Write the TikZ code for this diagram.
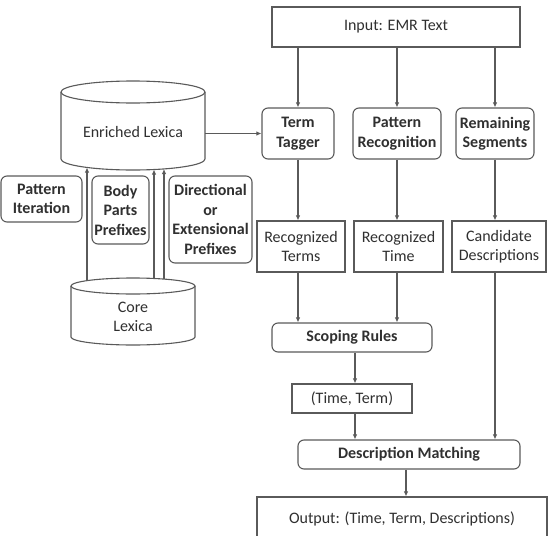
\documentclass[tikz,border=0pt]{standalone}
\usepackage{fontspec}
\setmainfont{Carlito}
\usetikzlibrary{arrows.meta}
\definecolor{ln}{HTML}{5A5A5A}
\definecolor{tx}{HTML}{303030}
\tikzset{
  txt/.style={text=tx, font=\fontsize{16}{19.5}\selectfont, align=center, inner sep=0pt},
  box/.style={txt, draw=ln, line width=1.1pt, fill=white},
  rbox/.style={box, rounded corners=6pt, font=\fontsize{16}{19.5}\selectfont\bfseries},
  arr/.style={draw=ln, line width=1.1pt, -{Latex[length=5pt,width=4.5pt]}},
  cyl/.style={draw=ln, line width=1.1pt, fill=white}
}
\begin{document}
\begin{tikzpicture}[x=1pt,y=-1pt]
\useasboundingbox (0,0) rectangle (550,536);
% cylinders
\draw[cyl] (61,92) -- (61,159) arc[start angle=180, end angle=360, x radius=72pt, y radius=11pt] -- (205,92);
\draw[cyl] (133,92) ellipse [x radius=72pt, y radius=11pt];
\draw[cyl] (71,286) -- (71,337) arc[start angle=180, end angle=360, x radius=62pt, y radius=8pt] -- (195,286);
\draw[cyl] (133,286) ellipse [x radius=62pt, y radius=8pt];
\node[txt, minimum width=144pt] (enr) at (133,132) {Enriched Lexica};
\node[txt, minimum width=124pt] (core) at (133,317) {Core\\Lexica};
% left boxes
\node[rbox, minimum width=81pt, minimum height=46pt] (pi) at (41.5,199) {Pattern\\Iteration};
\node[rbox, minimum width=57pt, minimum height=68pt] (bp) at (120.5,210) {Body\\Parts\\Prefixes};
\node[rbox, minimum width=83pt, minimum height=87pt] (dir) at (210.5,219.5) {Directional\\or\\Extensional\\Prefixes};
% right column
\node[box, minimum width=248pt, minimum height=40pt] (in) at (396,27) {Input: EMR Text};
\node[rbox, minimum width=72pt, minimum height=51pt] (tag) at (298,133.5) {Term\\Tagger};
\node[rbox, minimum width=88pt, minimum height=51pt] (pat) at (397,133.5) {Pattern\\Recognition};
\node[rbox, minimum width=78pt, minimum height=51pt] (rem) at (495,133.5) {Remaining\\Segments};
\node[box, minimum width=88pt, minimum height=51pt] (rterms) at (301,246.5) {Recognized\\Terms};
\node[box, minimum width=89pt, minimum height=51pt] (rtime) at (398.5,246.5) {Recognized\\Time};
\node[box, minimum width=94pt, minimum height=51pt] (cand) at (499,246.5) {Candidate\\Descriptions};
\node[rbox, minimum width=160pt, minimum height=29pt] (scope) at (352,337.5) {Scoping Rules};
\node[box, minimum width=120pt, minimum height=29pt] (tt) at (352,398.5) {(Time, Term)};
\node[rbox, minimum width=222pt, minimum height=29pt] (dm) at (409,454.5) {Description Matching};
\node[box, minimum width=290pt, minimum height=44pt] (out) at (402,519) {Output: (Time, Term, Descriptions)};
% coordinates for the up arrows
\coordinate (c1) at (87,280.6);
\coordinate (c2) at (154,278.5);
\coordinate (c3) at (164,279);
\coordinate (e1) at (87,167.5);
\coordinate (e2) at (154,169.5);
\coordinate (e3) at (164,169);
\draw[arr] (c1) -- (e1);
\draw[arr] (c2) -- (e2);
\draw[arr] (c3) -- (e3);
% connectors
\draw[arr] (enr.east |- tag.west) -- (tag.west);
\draw[arr] (in.south -| tag) -- (tag.north);
\draw[arr] (in.south -| pat) -- (pat.north);
\draw[arr] (in.south -| rem) -- (rem.north);
\draw[arr] (tag.south) -- (tag.south |- rterms.north);
\draw[arr] (pat.south) -- (pat.south |- rtime.north);
\draw[arr] (rem.south) -- (rem.south |- cand.north);
\draw[arr] (rterms.south -| tag) -- (scope.north -| tag);
\draw[arr] (rtime.south -| pat) -- (scope.north -| pat);
\coordinate (sx) at (355,0);
\draw[arr] (scope.south -| sx) -- (tt.north -| sx);
\draw[arr] (tt.south -| sx) -- (dm.north -| sx);
\draw[arr] (cand.south -| rem) -- (dm.north -| rem);
\coordinate (dx) at (406,0);
\draw[arr] (dm.south -| dx) -- (out.north -| dx);
\end{tikzpicture}
\end{document}
